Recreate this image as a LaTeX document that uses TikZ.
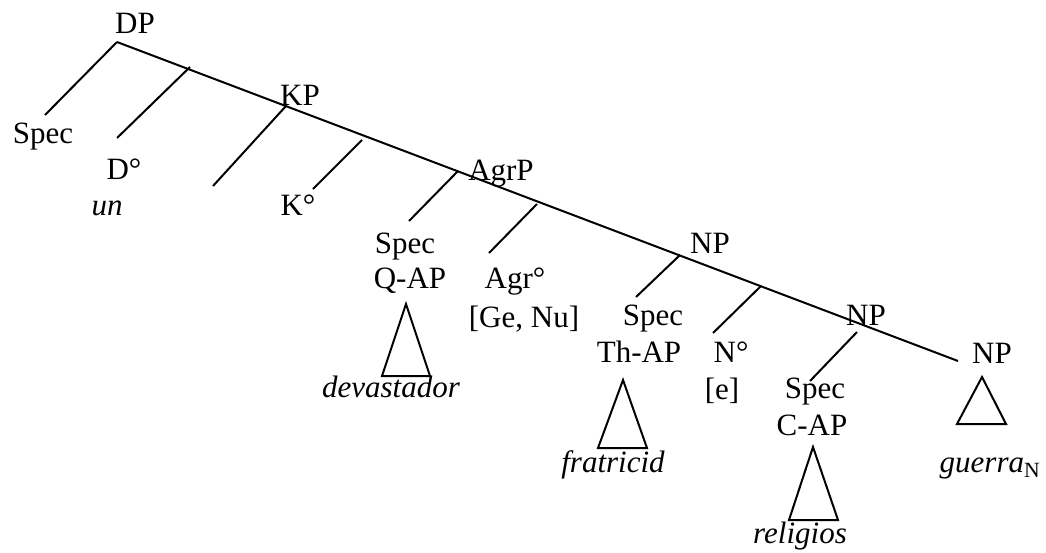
\documentclass[tikz,border=0pt]{standalone}
\usepackage{fontspec}
\setmainfont{Liberation Serif}
\begin{document}
\begin{tikzpicture}[x=1pt,y=-1pt,
  lbl/.style={anchor=base,inner sep=0pt,font=\fontsize{31}{36}\selectfont},
  itl/.style={anchor=base,inner sep=0pt,font=\fontsize{31}{36}\selectfont\itshape},
  edge/.style={line width=2pt},
  tri/.style={line width=2pt}]
\useasboundingbox (0,0) rectangle (1046,552);
% labels
\node[lbl] (dp) at (135,33) {DP};
\node[lbl] (spec1) at (43,143) {Spec};
\node[lbl] (d0) at (124,179) {D°};
\node[itl] (un) at (107,215) {un};
\node[lbl] (kp) at (300,105) {KP};
\node[lbl] (k0) at (298,215) {K°};
\node[lbl] (agrp) at (501,180) {AgrP};
\node[lbl] (spec2) at (405,253) {Spec};
\node[lbl] (qap) at (410,288) {Q-AP};
\node[itl] (dev) at (391,397) {devastador};
\node[lbl] (agr0) at (515,288) {Agr°};
\node[lbl] (genu) at (524,327) {[Ge, Nu]};
\node[lbl] (np1) at (710,253) {NP};
\node[lbl] (spec3) at (653,325) {Spec};
\node[lbl] (thap) at (639,362) {Th-AP};
\node[itl] (frat) at (613,472) {fratricid};
\node[lbl] (n0) at (731,362) {N°};
\node[lbl] (e) at (722,399) {[e]};
\node[lbl] (np2) at (866,325) {NP};
\node[lbl] (spec4) at (815,398) {Spec};
\node[lbl] (cap) at (812,435) {C-AP};
\node[itl] (rel) at (800,543) {religios};
\node[lbl] (np3) at (992,363) {NP};
\node[lbl] (guer) at (990,472) {\textit{guerra}\textsubscript{N}};
% spine and branch points
\coordinate (r0) at (117,42);
\coordinate (rend) at (958,361);
\coordinate (r1) at (190,67);
\coordinate (r2) at (286,106);
\coordinate (r3) at (362,140);
\coordinate (r4) at (458,171);
\coordinate (r5) at (537,204);
\coordinate (r6) at (680,255);
\coordinate (r7) at (761,286);
\coordinate (r8) at (857,332);
\coordinate (b0) at (45,115);
\coordinate (b1) at (117,138);
\coordinate (b2) at (213,186);
\coordinate (b3) at (313,189);
\coordinate (b4) at (409,221);
\coordinate (b5) at (489,253);
\coordinate (b6) at (636,297);
\coordinate (b7) at (713,333);
\coordinate (b8) at (810,381);
\draw[edge] (r0) -- (rend);
\draw[edge] (r0) -- (b0);
\draw[edge] (r1) -- (b1);
\draw[edge] (r2) -- (b2);
\draw[edge] (r3) -- (b3);
\draw[edge] (r4) -- (b4);
\draw[edge] (r5) -- (b5);
\draw[edge] (r6) -- (b6);
\draw[edge] (r7) -- (b7);
\draw[edge] (r8) -- (b8);
% triangles
\draw[tri] (406,304) -- (382,376) -- (430,376) -- cycle;
\draw[tri] (623,380) -- (598,448) -- (647,448) -- cycle;
\draw[tri] (813,447) -- (789,520) -- (838,520) -- cycle;
\draw[tri] (982,377) -- (957,424) -- (1006,424) -- cycle;
\end{tikzpicture}
\end{document}
